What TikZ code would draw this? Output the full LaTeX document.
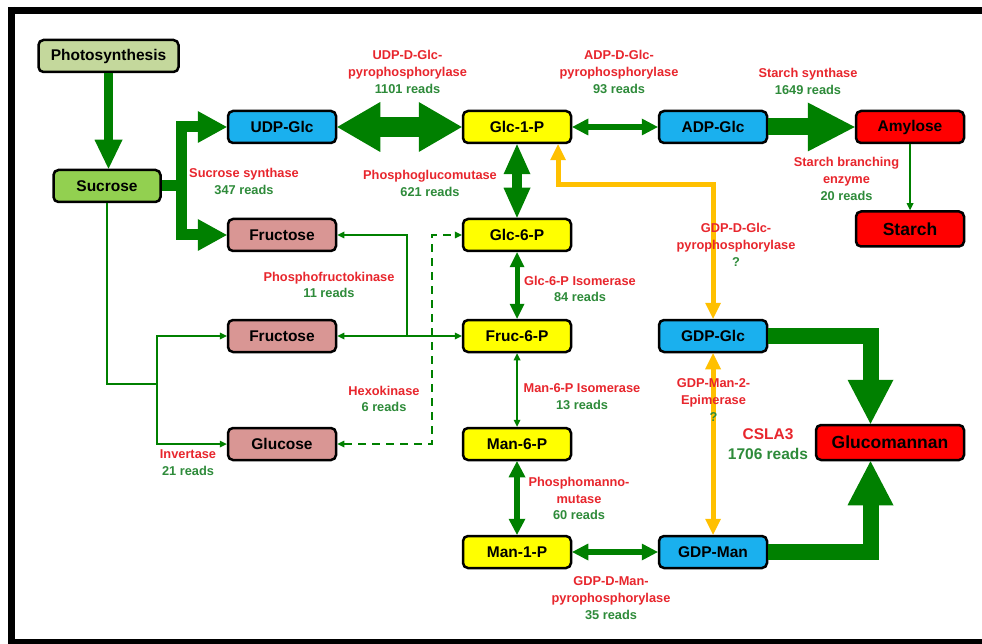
\documentclass[tikz,border=0pt]{standalone}
\usepackage{fontspec}
\setmainfont{Liberation Sans}
\usetikzlibrary{arrows.meta,calc}
\definecolor{agreen}{HTML}{008000}
\definecolor{lred}{HTML}{E8262D}
\definecolor{lgreen}{HTML}{2E8B3A}
\definecolor{cphoto}{HTML}{C4D89C}
\definecolor{csuc}{HTML}{92D050}
\definecolor{cblue}{HTML}{1AB0EE}
\definecolor{cpink}{HTML}{D99694}
\definecolor{cyel}{HTML}{FFFF00}
\definecolor{cred}{HTML}{FF0000}
\definecolor{corange}{HTML}{FFC000}
\begin{document}
\begin{tikzpicture}[x=1pt,y=-1pt,
  box/.style={draw=black, line width=2.5pt, rounded corners=5pt,
    minimum width=108pt, minimum height=32pt, inner sep=0pt,
    font=\fontsize{15.5}{17}\selectfont\bfseries},
  bigbox/.style={box, font=\fontsize{17.5}{19}\selectfont\bfseries},
  lab/.style={align=center, inner sep=0pt, text=lred,
    font=\fontsize{12.8}{16.8}\selectfont\bfseries},
  fatPS/.style={draw=agreen, line width=9pt,
    -{Triangle[width=28pt,length=29pt,line width=0pt]}},
  fatSU/.style={draw=agreen, line width=11pt, line join=miter,
    -{Triangle[width=32pt,length=29pt,line width=0pt]}},
  fatUG/.style={draw=agreen, line width=20pt,
    {Triangle[width=50pt,length=43pt,line width=0pt]}-{Triangle[width=50pt,length=43pt,line width=0pt]}},
  fatAA/.style={draw=agreen, line width=17pt,
    -{Triangle[width=49pt,length=47pt,line width=0pt]}},
  fatGG/.style={draw=agreen, line width=10pt,
    {Triangle[width=27pt,length=30pt,line width=0pt]}-{Triangle[width=27pt,length=30pt,line width=0pt]}},
  midarr/.style={draw=agreen, line width=5.5pt,
    {Triangle[width=17pt,length=16pt,line width=0pt]}-{Triangle[width=17pt,length=16pt,line width=0pt]}},
  smallarr/.style={draw=agreen, line width=5pt,
    {Triangle[width=15pt,length=15pt,line width=0pt]}-{Triangle[width=15pt,length=15pt,line width=0pt]}},
  thinarr/.style={draw=agreen, line width=1.8pt,
    -{Triangle[width=7pt,length=7pt,line width=0pt]}},
  thinboth/.style={draw=agreen, line width=1.8pt,
    {Triangle[width=7pt,length=7pt,line width=0pt]}-{Triangle[width=7pt,length=7pt,line width=0pt]}},
  orarr/.style={draw=corange, line width=5pt, line join=miter,
    {Triangle[width=16pt,length=16pt,line width=0pt]}-{Triangle[width=16pt,length=16pt,line width=0pt]}},
  fatGM/.style={draw=agreen, line width=16pt, line join=miter,
    -{Triangle[width=46pt,length=44pt,line width=0pt]}},
  frame/.style={draw=black, line width=7pt}
]
\useasboundingbox (0,0) rectangle (982,644);
\fill[white] (0,0) rectangle (982,644);
% frame
\draw[frame] (11,10.5) -- (982,10.5);
\draw[frame] (11,7) -- (11,644);
\draw[frame, line width=5pt] (11,641.5) -- (982,641.5);

% nodes
\node[box, fill=cphoto, minimum width=140pt] (ph) at (108.5,56) {Photosynthesis};
\node[box, fill=csuc, minimum width=107pt] (suc) at (107,186) {Sucrose};
\node[box, fill=cblue] (udp) at (282,127) {UDP-Glc};
\node[box, fill=cpink] (fru1) at (282,235) {Fructose};
\node[box, fill=cpink] (fru2) at (282,336) {Fructose};
\node[box, fill=cpink] (glc) at (282,444) {Glucose};
\node[box, fill=cyel] (g1p) at (517,127) {Glc-1-P};
\node[box, fill=cyel] (g6p) at (517,235) {Glc-6-P};
\node[box, fill=cyel] (f6p) at (517,336) {Fruc-6-P};
\node[box, fill=cyel] (m6p) at (517,444) {Man-6-P};
\node[box, fill=cyel] (m1p) at (517,552) {Man-1-P};
\node[box, fill=cblue] (adp) at (713,127) {ADP-Glc};
\node[box, fill=cred] (amy) at (910,127) {Amylose};
\node[bigbox, fill=cred, minimum height=35pt] (sta) at (910,229) {Starch};
\node[box, fill=cblue] (gglc) at (713,336) {GDP-Glc};
\node[box, fill=cblue] (gman) at (713,552) {GDP-Man};
\node[bigbox, fill=cred, minimum width=148pt, minimum height=35pt] (gm) at (890,442.5) {Glucomannan};

% helper coordinates
\coordinate (sj) at (181.5,186);
\coordinate (ij) at (157,384);
\coordinate (pfk) at (407,336);
\coordinate (hx) at (432,235);
\coordinate (ob) at (558,185);
\coordinate (gmt) at ($(gm.north)+(-19.5,0)$);
\coordinate (gmb) at ($(gm.south)+(-19.5,0)$);

% fat connectors
\draw[fatPS] (ph.south) -- (ph.south |- suc.north);
\draw[fatSU] (suc.east) -- (sj) |- (udp.west);
\draw[fatSU] (suc.east) -- (sj) |- (fru1.west);
\draw[fatUG] (udp.east) -- (g1p.west);
\draw[fatAA] (adp.east) -- (amy.west);
\draw[fatGG] (g1p.south) -- (g6p.north);
\draw[fatGM] (gglc.east) -| (gmt);
\draw[fatGM] (gman.east) -| (gmb);

% medium connectors
\draw[midarr] (g1p.east) -- (adp.west);
\draw[smallarr] (g6p.south) -- (f6p.north);
\draw[midarr] (m6p.south) -- (m1p.north);
\draw[midarr] (m1p.east) -- (gman.west);

% thin connectors
\draw[thinarr] (amy.south) -- (sta.north);
\draw[thinboth] (f6p.south) -- (m6p.north);
\draw[draw=agreen, line width=1.8pt] (suc.south) |- (ij);
\draw[thinarr] (ij) |- (fru2.west);
\draw[thinarr] (ij) |- (glc.west);
\draw[thinboth] (f6p.west) -- (fru2.east);
\draw[thinarr] (pfk) |- (fru1.east);
\draw[thinboth, dash pattern=on 8pt off 6pt] (glc.east) -| (hx) -- (g6p.west);

% orange connectors
\draw[orarr] (gglc.south) -- (gman.north);
\draw[orarr] (g1p.south -| ob) -- (ob) -| (gglc.north);

% labels
\node[lab] (l1) at (407.5,72) {UDP-D-Glc-\\pyrophosphorylase\\\textcolor{lgreen}{1101 reads}};
\node[lab] (l2) at (619,72) {ADP-D-Glc-\\pyrophosphorylase\\\textcolor{lgreen}{93 reads}};
\node[lab] (l3) at (808,81.5) {Starch synthase\\\textcolor{lgreen}{1649 reads}};
\node[lab] (l4) at (244,181.5) {Sucrose synthase\\\textcolor{lgreen}{347 reads}};
\node[lab] (l5) at (430,183.5) {Phosphoglucomutase\\\textcolor{lgreen}{621 reads}};
\node[lab] (l6) at (846.5,179) {Starch branching\\enzyme\\\textcolor{lgreen}{20 reads}};
\node[lab] (l7) at (736,245) {GDP-D-Glc-\\pyrophosphorylase\\\textcolor{lgreen}{?}};
\node[lab] (l8) at (329,285) {Phosphofructokinase\\\textcolor{lgreen}{11 reads}};
\node[lab] (l9) at (580,289) {Glc-6-P Isomerase\\\textcolor{lgreen}{84 reads}};
\node[lab] (l10) at (384,399) {Hexokinase\\\textcolor{lgreen}{6 reads}};
\node[lab] (l11) at (188,463) {Invertase\\\textcolor{lgreen}{21 reads}};
\node[lab] (l12) at (582,397) {Man-6-P Isomerase\\\textcolor{lgreen}{13 reads}};
\node[lab] (l13) at (579,498.5) {Phosphomanno-\\mutase\\\textcolor{lgreen}{60 reads}};
\node[lab] (l14) at (713.5,400) {GDP-Man-2-\\Epimerase\\\textcolor{lgreen}{?}};
\node[lab, font=\fontsize{15.5}{20}\selectfont\bfseries] (l15) at (768,444) {CSLA3\\\textcolor{lgreen}{1706 reads}};
\node[lab] (l16) at (611,598) {GDP-D-Man-\\pyrophosphorylase\\\textcolor{lgreen}{35 reads}};
\end{tikzpicture}
\end{document}
